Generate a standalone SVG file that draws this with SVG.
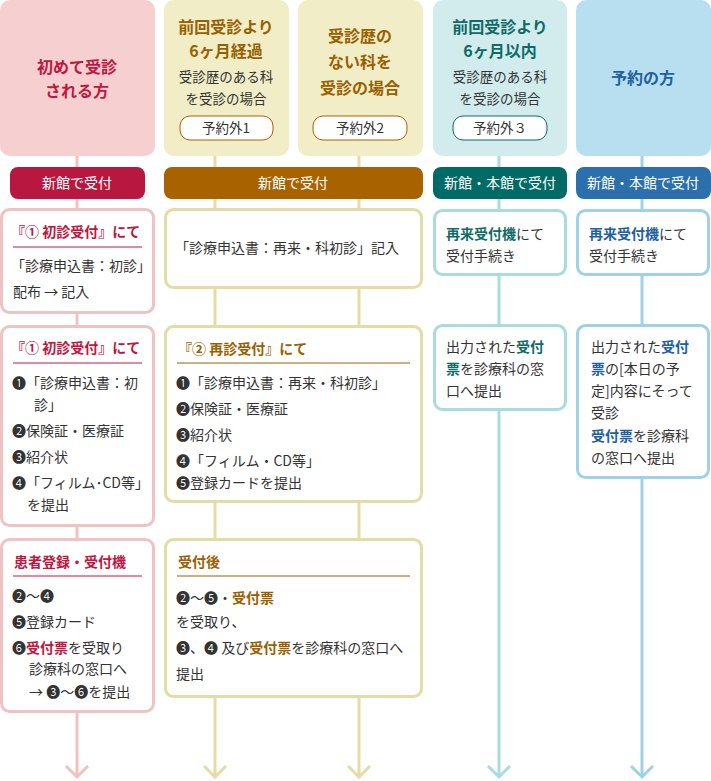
<svg xmlns="http://www.w3.org/2000/svg" width="711" height="781" viewBox="0 0 711 781">
<style>
text{font-family:"Noto Sans CJK JP","Noto Sans",sans-serif;font-size:14px;fill:#333}
.t{font-size:16px;font-weight:bold;text-anchor:middle}
.s{font-size:13.5px;text-anchor:middle}
.c{text-anchor:middle}
.w{fill:#fff;font-size:14px;text-anchor:middle}
.b{font-weight:bold}
.pk{fill:#c0163f}.br{fill:#9a5f00}.tl{fill:#0f6b66}.bl{fill:#2060a0}
.box{fill:#fff;stroke-width:3}
</style>
<g id="connectors" stroke-width="3" fill="none">
<path d="M77 156V775M66 766l11 11 11-11" stroke="#efc3c4"/>
<path d="M215 156V775M204 766l11 11 11-11" stroke="#e3dda5"/>
<path d="M359 156V775M348 766l11 11 11-11" stroke="#e3dda5"/>
<path d="M499 156V775M488 766l11 11 11-11" stroke="#a8dce0"/>
<path d="M642 156V775M631 766l11 11 11-11" stroke="#9fd2e7"/>
</g>
<g id="h1"><rect x="0" y="0" width="155" height="156" rx="10" fill="#f6cfd0"/>
<text x="77" y="73" class="t pk">初めて受診</text><text x="77" y="97" class="t pk">される方</text></g>
<g id="h2"><rect x="164" y="0" width="125" height="156" rx="10" fill="#f0edc7"/>
<text x="226" y="33" class="t br">前回受診より</text><text x="226" y="57" class="t br">6ヶ月経過</text>
<text x="226" y="82" class="s">受診歴のある科</text><text x="226" y="104" class="s">を受診の場合</text>
<rect x="180" y="116" width="93" height="24" rx="10" fill="#fff" stroke="#a86300"/><text x="226" y="133" class="s">予約外1</text></g>
<g id="h3"><rect x="298" y="0" width="125" height="156" rx="10" fill="#f0edc7"/>
<text x="360" y="42" class="t br">受診歴の</text><text x="360" y="68" class="t br">ない科を</text><text x="360" y="94" class="t br">受診の場合</text>
<rect x="313" y="116" width="94" height="24" rx="10" fill="#fff" stroke="#a86300"/><text x="360" y="133" class="s">予約外2</text></g>
<g id="h4"><rect x="433" y="0" width="134" height="156" rx="10" fill="#d2ecee"/>
<text x="500" y="33" class="t tl">前回受診より</text><text x="500" y="57" class="t tl">6ヶ月以内</text>
<text x="500" y="82" class="s">受診歴のある科</text><text x="500" y="104" class="s">を受診の場合</text>
<rect x="453" y="116" width="94" height="24" rx="10" fill="#fff" stroke="#0f6b66"/><text x="500" y="133" class="s">予約外３</text></g>
<g id="h5"><rect x="576" y="0" width="135" height="156" rx="10" fill="#b8dff0"/>
<text x="643" y="84" class="t bl">予約の方</text></g>
<g id="band1"><rect x="10" y="167" width="135" height="32" rx="8" fill="#b8173f"/><text x="77" y="188" class="w">新館で受付</text></g>
<g id="band2"><rect x="164" y="167" width="259" height="32" rx="8" fill="#a86300"/><text x="293" y="188" class="w">新館で受付</text></g>
<g id="band4"><rect x="433" y="167" width="134" height="32" rx="8" fill="#006b66"/><text x="500" y="188" class="w">新館・本館で受付</text></g>
<g id="band5"><rect x="576" y="167" width="135" height="32" rx="8" fill="#2b6fad"/><text x="643" y="188" class="w">新館・本館で受付</text></g>
<g id="c1b1"><rect x="1.5" y="209.5" width="152" height="103" rx="8" class="box" stroke="#efc3c4"/>
<text x="11" y="237" class="b pk">『① 初診受付』にて</text><path d="M13 247H142" stroke="#c0163f"/>
<text x="11" y="271">「診療申込書：初診」</text><text x="13" y="297">配布 → 記入</text></g>
<g id="c1b2"><rect x="1.5" y="326.5" width="152" height="199" rx="8" class="box" stroke="#efc3c4"/>
<text x="11" y="353" class="b pk">『① 初診受付』にて</text><path d="M13 363H142" stroke="#c0163f"/>
<text x="12" y="388">❶「診療申込書：初</text><text x="34" y="410">診」</text>
<text x="12" y="436">❷保険証・医療証</text><text x="12" y="462">❸紹介状</text>
<text x="12" y="488">❹「フィルム･CD等」</text><text x="27" y="510">を提出</text></g>
<g id="c1b3"><rect x="1.5" y="539.5" width="152" height="172" rx="8" class="box" stroke="#efc3c4"/>
<text x="14" y="567" class="b pk">患者登録・受付機</text><path d="M13 576H142" stroke="#c0163f"/>
<text x="12" y="601">❷～❹</text><text x="12" y="627">❺登録カード</text>
<text x="12" y="653">❻<tspan class="b pk">受付票</tspan>を受取り</text><text x="29" y="674">診療科の窓口へ</text><text x="29" y="697">→ ❸～❻を提出</text></g>
<g id="c2b1"><rect x="165.5" y="209.5" width="256" height="78" rx="8" class="box" stroke="#e3dda5"/>
<text x="175" y="253">「診療申込書：再来・科初診」記入</text></g>
<g id="c2b2"><rect x="165.5" y="326.5" width="256" height="175" rx="8" class="box" stroke="#e3dda5"/>
<text x="178" y="354" class="b br">『② 再診受付』にて</text><path d="M177 363H410" stroke="#9a5f00"/>
<text x="176" y="388">❶「診療申込書：再来・科初診」</text><text x="176" y="414">❷保険証・医療証</text>
<text x="176" y="440">❸紹介状</text><text x="176" y="466">❹「フィルム・CD等」</text><text x="176" y="488">❺登録カードを提出</text></g>
<g id="c2b3"><rect x="165.5" y="539.5" width="256" height="157" rx="8" class="box" stroke="#e3dda5"/>
<text x="178" y="567" class="b br">受付後</text><path d="M177 576H410" stroke="#9a5f00"/>
<text x="176" y="603">❷～❺・<tspan class="b br">受付票</tspan></text><text x="176" y="627">を受取り、</text>
<text x="176" y="653">❸、❹ 及び<tspan class="b br">受付票</tspan>を診療科の窓口へ</text><text x="176" y="679">提出</text></g>
<g id="c4b1"><rect x="434.5" y="210.5" width="131" height="64" rx="8" class="box" stroke="#a8dce0"/>
<text x="446" y="239"><tspan class="b tl">再来受付機</tspan>にて</text><text x="446" y="261">受付手続き</text></g>
<g id="c4b2"><rect x="434.5" y="325.5" width="131" height="84" rx="8" class="box" stroke="#a8dce0"/>
<text x="446" y="352">出力された<tspan class="b tl">受付</tspan></text><text x="446" y="374"><tspan class="b tl">票</tspan>を診療科の窓</text><text x="446" y="396">口へ提出</text></g>
<g id="c5b1"><rect x="577.5" y="210.5" width="131" height="64" rx="8" class="box" stroke="#9fd2e7"/>
<text x="589" y="239"><tspan class="b bl">再来受付機</tspan>にて</text><text x="589" y="261">受付手続き</text></g>
<g id="c5b2"><rect x="577.5" y="325.5" width="131" height="152" rx="8" class="box" stroke="#9fd2e7"/>
<text x="591" y="352">出力された<tspan class="b bl">受付</tspan></text><text x="591" y="374"><tspan class="b bl">票</tspan>の[本日の予</text>
<text x="591" y="396">定]内容にそって</text><text x="591" y="418">受診</text>
<text x="591" y="441"><tspan class="b bl">受付票</tspan>を診療科</text><text x="591" y="463">の窓口へ提出</text></g>
</svg>
